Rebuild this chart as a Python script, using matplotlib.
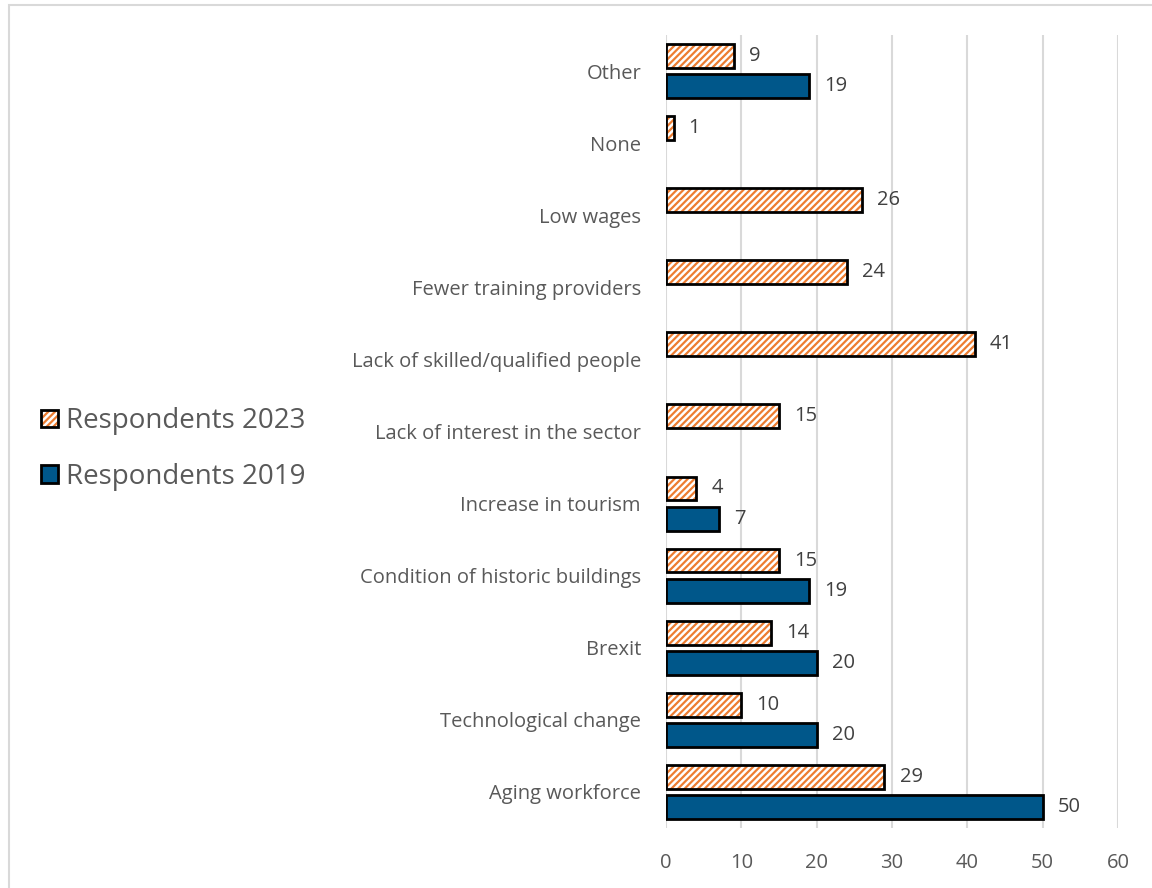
import numpy as np
import matplotlib.pyplot as plt
from matplotlib.patches import Patch, Rectangle

# ---------- Data ----------
categories = ["Other", "None", "Low wages", "Fewer training providers",
              "Lack of skilled/qualified people", "Lack of interest in the sector",
              "Increase in tourism", "Condition of historic buildings", "Brexit",
              "Technological change", "Aging workforce"]
resp_2023 = [9, 1, 26, 24, 41, 15, 4, 15, 14, 10, 29]
resp_2019 = [19, np.nan, np.nan, np.nan, np.nan, np.nan, 7, 19, 20, 20, 50]
xticks = [0, 10, 20, 30, 40, 50, 60]

orange = "#ED7D31"
blue = "#00578A"
grey_text = "#595959"
grid_c = "#D9D9D9"

plt.rcParams['font.family'] = ['Open Sans', 'DejaVu Sans']
plt.rcParams['hatch.linewidth'] = 1.6

fig = plt.figure(figsize=(11.52, 8.88), dpi=100)
ax = fig.add_axes([666/1152, 1 - 828/888, (1118 - 666)/1152, (828 - 35)/888])

y = np.arange(len(categories))
h = 0.33
off = 0.21
fs = 14.5

# 2023 bars: hatch layer + black outline layer
ax.barh(y - off, resp_2023, height=h, color="white", edgecolor=orange,
        hatch="/////", linewidth=0, zorder=3)
ax.barh(y - off, resp_2023, height=h, fill=False, edgecolor="black",
        linewidth=2, zorder=4)
ax.barh(y + off, resp_2019, height=h, color=blue, edgecolor="black",
        linewidth=2, zorder=3)

for yi, v in zip(y, resp_2023):
    ax.text(v + 2.0, yi - off, f"{v:g}", va="center", ha="left",
            fontsize=fs, color="#404040")
for yi, v in zip(y, resp_2019):
    if not np.isnan(v):
        ax.text(v + 2.0, yi + off, f"{v:g}", va="center", ha="left",
                fontsize=fs, color="#404040")

ax.set_ylim(10.5, -0.5)
ax.set_xlim(0, 60)
ax.set_yticks(y)
ax.set_yticklabels(categories, fontsize=fs, color=grey_text)
ax.set_xticks(xticks)
ax.set_xticklabels([str(t) for t in xticks], fontsize=fs, color=grey_text)
ax.tick_params(axis="both", length=0)
ax.tick_params(axis="y", pad=18)
ax.tick_params(axis="x", pad=18)
for s in ax.spines.values():
    s.set_visible(False)
ax.xaxis.grid(True, color=grid_c, linewidth=1.5, zorder=0)
ax.set_axisbelow(True)

# ---------- Legend ----------
h23 = (Patch(facecolor="white", edgecolor=orange, hatch="/////", linewidth=0),
       Patch(fill=False, edgecolor="black", linewidth=2))
h19 = Patch(facecolor=blue, edgecolor="black", linewidth=2)
fig.legend([h23, h19], ["Respondents 2023", "Respondents 2019"],
           loc="center left", bbox_to_anchor=(16/1152, 1 - 449/888),
           frameon=False, fontsize=20, labelcolor=grey_text,
           handlelength=0.6, handleheight=0.6, handletextpad=0.3,
           labelspacing=1.0)

# ---------- Chart border ----------
fig.patches.append(Rectangle((9/1152, -0.1), 1.2, 1 - 5/888 + 0.1,
                             transform=fig.transFigure, fill=False,
                             edgecolor=grid_c, linewidth=1.5))

fig.savefig("out.png", dpi=100)
